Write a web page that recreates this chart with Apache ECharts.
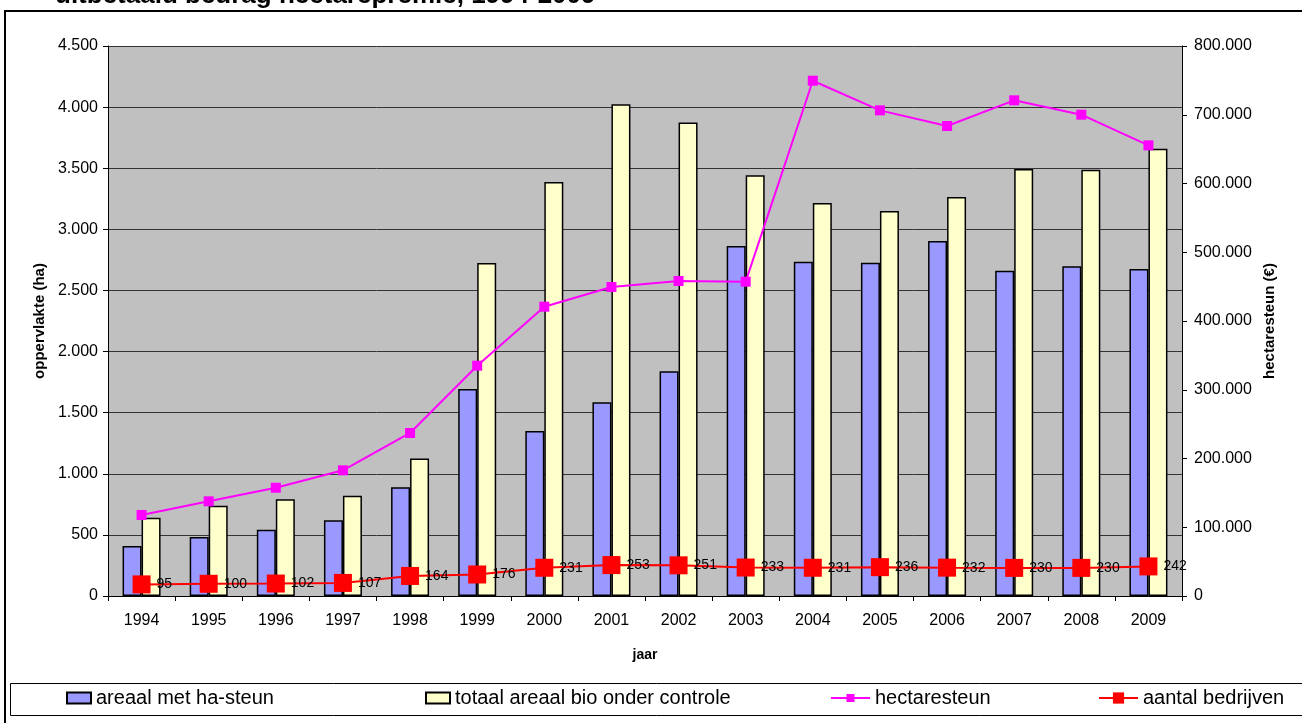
<!DOCTYPE html>
<html>
<head>
<meta charset="utf-8">
<script src="https://cdn.jsdelivr.net/npm/echarts@6/dist/echarts.min.js"></script>
<style>
  html, body { margin: 0; padding: 0; background: #fff; }
  #chart { width: 1302px; height: 723px; }
</style>
</head>
<body>
<div id="chart"></div>
<script>
const years = ['1994', '1995', '1996', '1997', '1998', '1999', '2000', '2001',
  '2002', '2003', '2004', '2005', '2006', '2007', '2008', '2009'];
const areaalSteun = [409, 483, 543, 619, 889, 1693, 1350, 1585, 1838, 2864, 2735, 2727, 2905, 2661, 2697, 2675];
const areaalBio = [641, 739, 791, 821, 1126, 2724, 3387, 4023, 3875, 3442, 3215, 3150, 3265, 3493, 3487, 3659];
const hectaresteun = [117800, 137700, 157500, 182800, 237100, 335000, 420800, 449500,
  458200, 457200, 749500, 706400, 683600, 721000, 700100, 655500];
const bedrijven = [95, 100, 102, 107, 164, 176, 231, 253, 251, 233, 231, 236, 232, 230, 230, 242];

const FONT = 'Liberation Sans, Arial, sans-serif';

function dots(v) {
  return String(v).replace(/\B(?=(\d{3})+(?!\d))/g, '.');
}

function legendAt(name, left, icon, w, h) {
  return {
    data: [name],
    left: left,
    top: 688,
    padding: 0,
    icon: icon,
    itemWidth: w,
    itemHeight: h,
    textStyle: { fontFamily: FONT, fontSize: 20, color: '#000' }
  };
}

const chart = echarts.init(document.getElementById('chart'));

chart.setOption({
  animation: false,
  textStyle: { fontFamily: FONT },
  title: {
    text: 'uitbetaald bedrag hectarepremie, 1994-2009',
    left: 55,
    top: -17,
    padding: 0,
    textStyle: { fontFamily: FONT, fontSize: 26, fontWeight: 'bold', color: '#000' }
  },
  graphic: [
    {
      type: 'rect',
      shape: { x: 5, y: 11, width: 1310, height: 730 },
      style: { fill: null, stroke: '#000', lineWidth: 2 },
      silent: true
    },
    {
      type: 'rect',
      shape: { x: 10.5, y: 683.5, width: 1300, height: 32 },
      style: { fill: null, stroke: '#000', lineWidth: 1 },
      silent: true
    }
  ],
  legend: [
    legendAt('areaal met ha-steun', 66, 'rect', 24, 11),
    legendAt('totaal areaal bio onder controle', 425, 'rect', 24, 11),
    legendAt('hectaresteun', 830, undefined, 39, 10),
    legendAt('aantal bedrijven', 1098, undefined, 39, 14)
  ],
  grid: {
    left: 108,
    right: 120,
    top: 46,
    bottom: 127,
    show: true,
    backgroundColor: '#C0C0C0',
    borderWidth: 0
  },
  xAxis: {
    type: 'category',
    data: years,
    name: 'jaar',
    nameLocation: 'middle',
    nameGap: 52,
    nameTextStyle: { fontFamily: FONT, fontSize: 14, fontWeight: 'bold', color: '#000' },
    axisLine: { lineStyle: { color: '#000', width: 1 } },
    axisTick: { show: true, length: 5, lineStyle: { color: '#000' } },
    axisLabel: { color: '#000', fontSize: 16, margin: 17 }
  },
  yAxis: [
    {
      type: 'value',
      min: 0,
      max: 4500,
      interval: 500,
      name: 'oppervlakte (ha)',
      nameLocation: 'middle',
      nameRotate: 90,
      nameGap: 57,
      nameTextStyle: { fontFamily: FONT, fontSize: 15, fontWeight: 'bold', color: '#000' },
      axisLine: { show: true, lineStyle: { color: '#000' } },
      axisTick: { show: true, length: 5, lineStyle: { color: '#000' } },
      axisLabel: { color: '#000', fontSize: 16, margin: 10, formatter: dots },
      splitLine: { show: true, lineStyle: { color: '#333', width: 1 } }
    },
    {
      type: 'value',
      min: 0,
      max: 800000,
      interval: 100000,
      position: 'right',
      name: 'hectaresteun (€)',
      nameLocation: 'middle',
      nameRotate: 90,
      nameGap: 76,
      nameTextStyle: { fontFamily: FONT, fontSize: 15, fontWeight: 'bold', color: '#000' },
      axisLine: { show: true, lineStyle: { color: '#000' } },
      axisTick: { show: true, length: 5, lineStyle: { color: '#000' } },
      axisLabel: { color: '#000', fontSize: 16, margin: 12, formatter: dots },
      splitLine: { show: false }
    }
  ],
  series: [
    {
      name: 'areaal met ha-steun',
      type: 'bar',
      data: areaalSteun,
      barWidth: 19,
      barGap: 0,
      itemStyle: { color: '#9999FF', borderColor: '#000', borderWidth: 1.5 }
    },
    {
      name: 'totaal areaal bio onder controle',
      type: 'bar',
      data: areaalBio,
      barWidth: 19,
      barGap: 0,
      itemStyle: { color: '#FFFFCC', borderColor: '#000', borderWidth: 1.5 }
    },
    {
      name: 'hectaresteun',
      type: 'line',
      yAxisIndex: 1,
      data: hectaresteun,
      symbol: 'rect',
      symbolSize: 10,
      lineStyle: { color: '#FF00FF', width: 2 },
      itemStyle: { color: '#FF00FF' }
    },
    {
      name: 'aantal bedrijven',
      type: 'line',
      yAxisIndex: 0,
      data: bedrijven,
      symbol: 'rect',
      symbolSize: 18,
      lineStyle: { color: '#FF0000', width: 2 },
      itemStyle: { color: '#FF0000' },
      label: {
        show: true,
        position: 'right',
        distance: 6,
        color: '#000',
        fontSize: 14
      },
      z: 5
    }
  ]
});
</script>
</body>
</html>
